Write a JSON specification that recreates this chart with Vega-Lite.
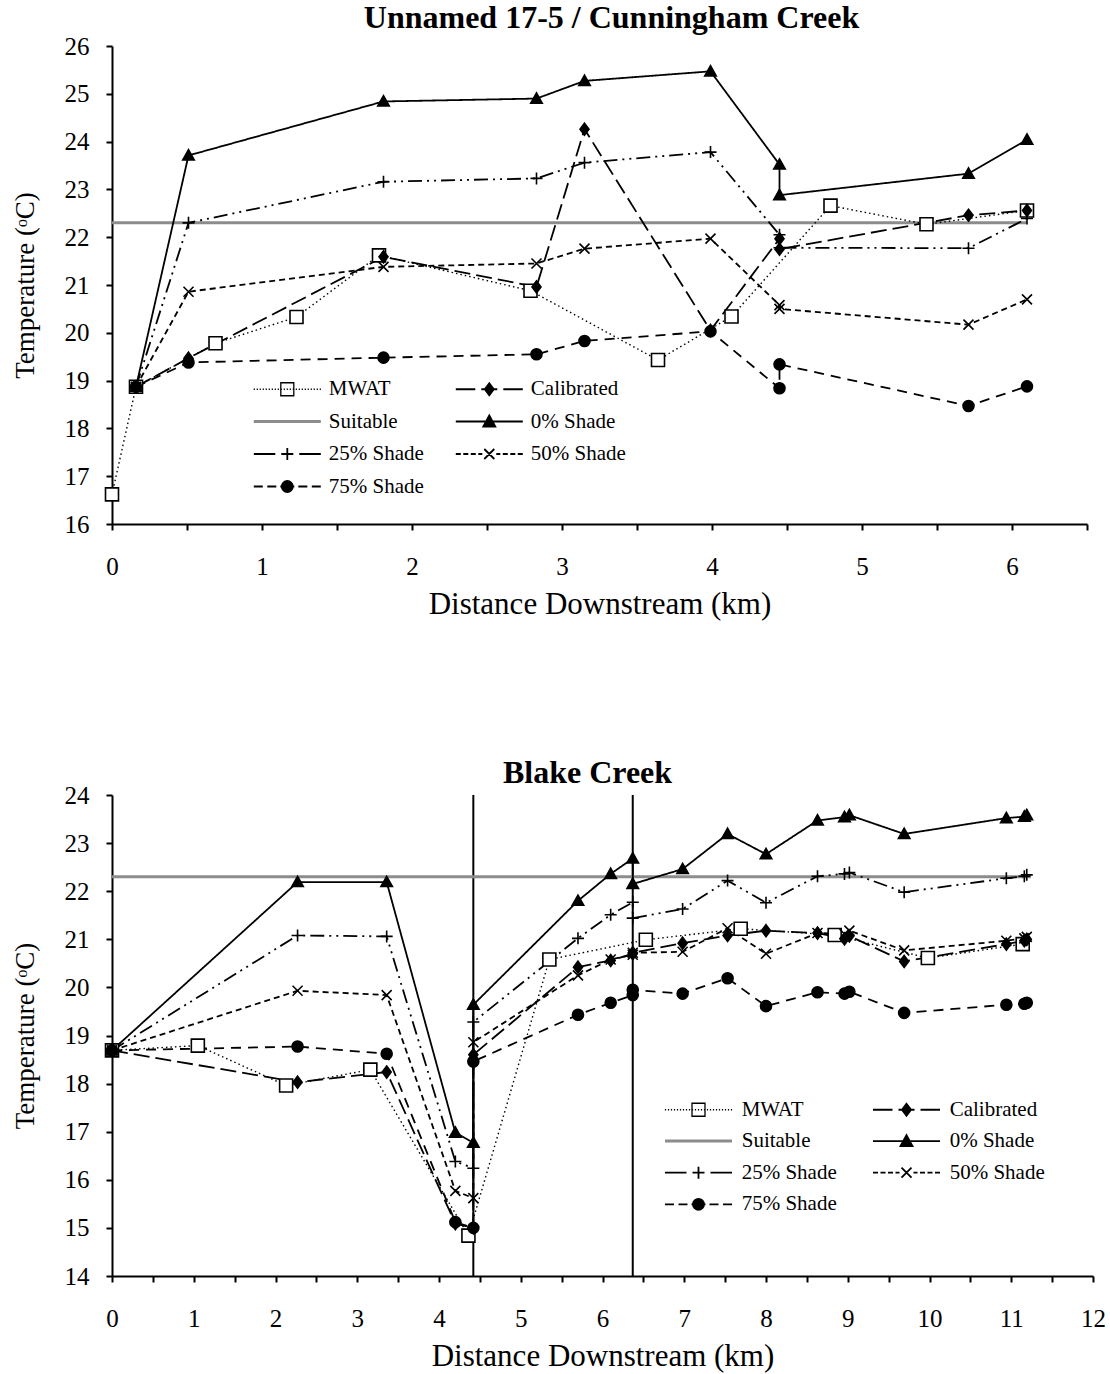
{
  "$schema": "https://vega.github.io/schema/vega-lite/v6.json",
  "background": "white",
  "padding": {"left": 11, "top": 2, "right": 5, "bottom": 5},
  "spacing": 137,
  "config": {
    "font": "Liberation Serif",
    "view": {"stroke": null},
    "axis": {
      "labelFont": "Liberation Serif", "labelFontSize": 25, "labelColor": "black",
      "titleFont": "Liberation Serif", "titleFontWeight": "normal", "titleColor": "black",
      "domainColor": "black", "domainWidth": 2, "tickColor": "black", "tickWidth": 2, "tickSize": 6,
      "grid": false, "labelFlush": false, "labelOverlap": false, "labelBound": false
    },
    "axisX": {"titleFontSize": 31, "labelPadding": 24, "titlePadding": 10},
    "axisY": {"titleFontSize": 27, "labelPadding": 17, "titlePadding": 25},
    "title": {"font": "Liberation Serif", "fontSize": 32, "fontWeight": "bold", "color": "black", "frame": "group", "anchor": "middle", "baseline": "bottom"}
  },
  "datasets": {
    "top": [
      {"s": "Suitable", "x": 0, "t": 22.3, "i": 0},
      {"s": "Suitable", "x": 6.1, "t": 22.3, "i": 1},
      {"s": "MWAT", "x": 0, "t": 16.62, "i": 0},
      {"s": "MWAT", "x": 0.16, "t": 18.87, "i": 1},
      {"s": "MWAT", "x": 0.69, "t": 19.78, "i": 2},
      {"s": "MWAT", "x": 1.23, "t": 20.33, "i": 3},
      {"s": "MWAT", "x": 1.78, "t": 21.62, "i": 4},
      {"s": "MWAT", "x": 2.79, "t": 20.88, "i": 5},
      {"s": "MWAT", "x": 3.64, "t": 19.43, "i": 6},
      {"s": "MWAT", "x": 4.13, "t": 20.34, "i": 7},
      {"s": "MWAT", "x": 4.79, "t": 22.66, "i": 8},
      {"s": "MWAT", "x": 5.43, "t": 22.27, "i": 9},
      {"s": "MWAT", "x": 6.1, "t": 22.56, "i": 10},
      {"s": "Calibrated", "x": 0.16, "t": 18.87, "i": 0},
      {"s": "Calibrated", "x": 0.51, "t": 19.47, "i": 1},
      {"s": "Calibrated", "x": 1.81, "t": 21.59, "i": 2},
      {"s": "Calibrated", "x": 2.83, "t": 20.96, "i": 3},
      {"s": "Calibrated", "x": 3.15, "t": 24.26, "i": 4},
      {"s": "Calibrated", "x": 3.99, "t": 20.05, "i": 5},
      {"s": "Calibrated", "x": 4.45, "t": 21.97, "i": 6},
      {"s": "Calibrated", "x": 4.45, "t": 21.75, "i": 7},
      {"s": "Calibrated", "x": 5.71, "t": 22.46, "i": 8},
      {"s": "Calibrated", "x": 6.1, "t": 22.56, "i": 9},
      {"s": "0% Shade", "x": 0.16, "t": 18.87, "i": 0},
      {"s": "0% Shade", "x": 0.51, "t": 23.71, "i": 1},
      {"s": "0% Shade", "x": 1.81, "t": 24.84, "i": 2},
      {"s": "0% Shade", "x": 2.83, "t": 24.9, "i": 3},
      {"s": "0% Shade", "x": 3.15, "t": 25.27, "i": 4},
      {"s": "0% Shade", "x": 3.99, "t": 25.47, "i": 5},
      {"s": "0% Shade", "x": 4.45, "t": 23.52, "i": 6},
      {"s": "0% Shade", "x": 4.45, "t": 22.88, "i": 7},
      {"s": "0% Shade", "x": 5.71, "t": 23.33, "i": 8},
      {"s": "0% Shade", "x": 6.1, "t": 24.04, "i": 9},
      {"s": "25% Shade", "x": 0.16, "t": 18.87, "i": 0},
      {"s": "25% Shade", "x": 0.51, "t": 22.3, "i": 1},
      {"s": "25% Shade", "x": 1.81, "t": 23.16, "i": 2},
      {"s": "25% Shade", "x": 2.83, "t": 23.23, "i": 3},
      {"s": "25% Shade", "x": 3.15, "t": 23.56, "i": 4},
      {"s": "25% Shade", "x": 3.99, "t": 23.78, "i": 5},
      {"s": "25% Shade", "x": 4.45, "t": 22.05, "i": 6},
      {"s": "25% Shade", "x": 4.45, "t": 21.78, "i": 7},
      {"s": "25% Shade", "x": 5.71, "t": 21.77, "i": 8},
      {"s": "25% Shade", "x": 6.1, "t": 22.39, "i": 9},
      {"s": "50% Shade", "x": 0.16, "t": 18.87, "i": 0},
      {"s": "50% Shade", "x": 0.51, "t": 20.86, "i": 1},
      {"s": "50% Shade", "x": 1.81, "t": 21.38, "i": 2},
      {"s": "50% Shade", "x": 2.83, "t": 21.45, "i": 3},
      {"s": "50% Shade", "x": 3.15, "t": 21.76, "i": 4},
      {"s": "50% Shade", "x": 3.99, "t": 21.97, "i": 5},
      {"s": "50% Shade", "x": 4.45, "t": 20.58, "i": 6},
      {"s": "50% Shade", "x": 4.45, "t": 20.5, "i": 7},
      {"s": "50% Shade", "x": 5.71, "t": 20.17, "i": 8},
      {"s": "50% Shade", "x": 6.1, "t": 20.7, "i": 9},
      {"s": "75% Shade", "x": 0.16, "t": 18.87, "i": 0},
      {"s": "75% Shade", "x": 0.51, "t": 19.38, "i": 1},
      {"s": "75% Shade", "x": 1.81, "t": 19.48, "i": 2},
      {"s": "75% Shade", "x": 2.83, "t": 19.55, "i": 3},
      {"s": "75% Shade", "x": 3.15, "t": 19.83, "i": 4},
      {"s": "75% Shade", "x": 3.99, "t": 20.03, "i": 5},
      {"s": "75% Shade", "x": 4.45, "t": 18.84, "i": 6},
      {"s": "75% Shade", "x": 4.45, "t": 19.34, "i": 7},
      {"s": "75% Shade", "x": 5.71, "t": 18.47, "i": 8},
      {"s": "75% Shade", "x": 6.1, "t": 18.88, "i": 9}
    ],
    "bottom": [
      {"s": "Suitable", "x": 0, "t": 22.3, "i": 0},
      {"s": "Suitable", "x": 11.24, "t": 22.3, "i": 1},
      {"s": "MWAT", "x": 0, "t": 18.69, "i": 0},
      {"s": "MWAT", "x": 1.05, "t": 18.79, "i": 1},
      {"s": "MWAT", "x": 2.13, "t": 17.96, "i": 2},
      {"s": "MWAT", "x": 3.16, "t": 18.29, "i": 3},
      {"s": "MWAT", "x": 4.36, "t": 14.84, "i": 4},
      {"s": "MWAT", "x": 5.35, "t": 20.58, "i": 5},
      {"s": "MWAT", "x": 6.53, "t": 20.99, "i": 6},
      {"s": "MWAT", "x": 7.69, "t": 21.22, "i": 7},
      {"s": "MWAT", "x": 8.84, "t": 21.09, "i": 8},
      {"s": "MWAT", "x": 9.98, "t": 20.61, "i": 9},
      {"s": "MWAT", "x": 11.14, "t": 20.9, "i": 10},
      {"s": "Calibrated", "x": 0, "t": 18.69, "i": 0},
      {"s": "Calibrated", "x": 2.27, "t": 18.03, "i": 1},
      {"s": "Calibrated", "x": 3.36, "t": 18.24, "i": 2},
      {"s": "Calibrated", "x": 4.2, "t": 15.09, "i": 3},
      {"s": "Calibrated", "x": 4.42, "t": 15.0, "i": 4},
      {"s": "Calibrated", "x": 4.42, "t": 18.6, "i": 5},
      {"s": "Calibrated", "x": 5.7, "t": 20.42, "i": 6},
      {"s": "Calibrated", "x": 6.1, "t": 20.56, "i": 7},
      {"s": "Calibrated", "x": 6.37, "t": 20.7, "i": 8},
      {"s": "Calibrated", "x": 6.37, "t": 20.72, "i": 9},
      {"s": "Calibrated", "x": 6.98, "t": 20.92, "i": 10},
      {"s": "Calibrated", "x": 7.53, "t": 21.08, "i": 11},
      {"s": "Calibrated", "x": 8.0, "t": 21.18, "i": 12},
      {"s": "Calibrated", "x": 8.63, "t": 21.13, "i": 13},
      {"s": "Calibrated", "x": 8.96, "t": 21.01, "i": 14},
      {"s": "Calibrated", "x": 9.02, "t": 21.07, "i": 15},
      {"s": "Calibrated", "x": 9.69, "t": 20.54, "i": 16},
      {"s": "Calibrated", "x": 10.94, "t": 20.9, "i": 17},
      {"s": "Calibrated", "x": 11.16, "t": 20.97, "i": 18},
      {"s": "Calibrated", "x": 11.19, "t": 21.0, "i": 19},
      {"s": "0% Shade", "x": 0, "t": 18.69, "i": 0},
      {"s": "0% Shade", "x": 2.27, "t": 22.19, "i": 1},
      {"s": "0% Shade", "x": 3.36, "t": 22.19, "i": 2},
      {"s": "0% Shade", "x": 4.2, "t": 16.98, "i": 3},
      {"s": "0% Shade", "x": 4.42, "t": 16.77, "i": 4},
      {"s": "0% Shade", "x": 4.42, "t": 19.64, "i": 5},
      {"s": "0% Shade", "x": 5.7, "t": 21.8, "i": 6},
      {"s": "0% Shade", "x": 6.1, "t": 22.36, "i": 7},
      {"s": "0% Shade", "x": 6.37, "t": 22.68, "i": 8},
      {"s": "0% Shade", "x": 6.37, "t": 22.15, "i": 9},
      {"s": "0% Shade", "x": 6.98, "t": 22.46, "i": 10},
      {"s": "0% Shade", "x": 7.53, "t": 23.19, "i": 11},
      {"s": "0% Shade", "x": 8.0, "t": 22.77, "i": 12},
      {"s": "0% Shade", "x": 8.63, "t": 23.47, "i": 13},
      {"s": "0% Shade", "x": 8.96, "t": 23.54, "i": 14},
      {"s": "0% Shade", "x": 9.02, "t": 23.58, "i": 15},
      {"s": "0% Shade", "x": 9.69, "t": 23.19, "i": 16},
      {"s": "0% Shade", "x": 10.94, "t": 23.52, "i": 17},
      {"s": "0% Shade", "x": 11.16, "t": 23.55, "i": 18},
      {"s": "0% Shade", "x": 11.19, "t": 23.58, "i": 19},
      {"s": "25% Shade", "x": 0, "t": 18.69, "i": 0},
      {"s": "25% Shade", "x": 2.27, "t": 21.08, "i": 1},
      {"s": "25% Shade", "x": 3.36, "t": 21.06, "i": 2},
      {"s": "25% Shade", "x": 4.2, "t": 16.38, "i": 3},
      {"s": "25% Shade", "x": 4.42, "t": 16.24, "i": 4},
      {"s": "25% Shade", "x": 4.42, "t": 19.28, "i": 5},
      {"s": "25% Shade", "x": 5.7, "t": 21.02, "i": 6},
      {"s": "25% Shade", "x": 6.1, "t": 21.51, "i": 7},
      {"s": "25% Shade", "x": 6.37, "t": 21.77, "i": 8},
      {"s": "25% Shade", "x": 6.37, "t": 21.44, "i": 9},
      {"s": "25% Shade", "x": 6.98, "t": 21.63, "i": 10},
      {"s": "25% Shade", "x": 7.53, "t": 22.22, "i": 11},
      {"s": "25% Shade", "x": 8.0, "t": 21.76, "i": 12},
      {"s": "25% Shade", "x": 8.63, "t": 22.31, "i": 13},
      {"s": "25% Shade", "x": 8.96, "t": 22.36, "i": 14},
      {"s": "25% Shade", "x": 9.02, "t": 22.39, "i": 15},
      {"s": "25% Shade", "x": 9.69, "t": 21.98, "i": 16},
      {"s": "25% Shade", "x": 10.94, "t": 22.27, "i": 17},
      {"s": "25% Shade", "x": 11.16, "t": 22.31, "i": 18},
      {"s": "25% Shade", "x": 11.19, "t": 22.34, "i": 19},
      {"s": "50% Shade", "x": 0, "t": 18.69, "i": 0},
      {"s": "50% Shade", "x": 2.27, "t": 19.93, "i": 1},
      {"s": "50% Shade", "x": 3.36, "t": 19.84, "i": 2},
      {"s": "50% Shade", "x": 4.2, "t": 15.77, "i": 3},
      {"s": "50% Shade", "x": 4.42, "t": 15.62, "i": 4},
      {"s": "50% Shade", "x": 4.42, "t": 18.86, "i": 5},
      {"s": "50% Shade", "x": 5.7, "t": 20.25, "i": 6},
      {"s": "50% Shade", "x": 6.1, "t": 20.58, "i": 7},
      {"s": "50% Shade", "x": 6.37, "t": 20.68, "i": 8},
      {"s": "50% Shade", "x": 6.37, "t": 20.72, "i": 9},
      {"s": "50% Shade", "x": 6.98, "t": 20.74, "i": 10},
      {"s": "50% Shade", "x": 7.53, "t": 21.23, "i": 11},
      {"s": "50% Shade", "x": 8.0, "t": 20.7, "i": 12},
      {"s": "50% Shade", "x": 8.63, "t": 21.13, "i": 13},
      {"s": "50% Shade", "x": 8.96, "t": 21.11, "i": 14},
      {"s": "50% Shade", "x": 9.02, "t": 21.18, "i": 15},
      {"s": "50% Shade", "x": 9.69, "t": 20.77, "i": 16},
      {"s": "50% Shade", "x": 10.94, "t": 20.97, "i": 17},
      {"s": "50% Shade", "x": 11.16, "t": 21.02, "i": 18},
      {"s": "50% Shade", "x": 11.19, "t": 21.05, "i": 19},
      {"s": "75% Shade", "x": 0, "t": 18.69, "i": 0},
      {"s": "75% Shade", "x": 2.27, "t": 18.77, "i": 1},
      {"s": "75% Shade", "x": 3.36, "t": 18.62, "i": 2},
      {"s": "75% Shade", "x": 4.2, "t": 15.12, "i": 3},
      {"s": "75% Shade", "x": 4.42, "t": 15.0, "i": 4},
      {"s": "75% Shade", "x": 4.42, "t": 18.46, "i": 5},
      {"s": "75% Shade", "x": 5.7, "t": 19.43, "i": 6},
      {"s": "75% Shade", "x": 6.1, "t": 19.68, "i": 7},
      {"s": "75% Shade", "x": 6.37, "t": 19.84, "i": 8},
      {"s": "75% Shade", "x": 6.37, "t": 19.95, "i": 9},
      {"s": "75% Shade", "x": 6.98, "t": 19.87, "i": 10},
      {"s": "75% Shade", "x": 7.53, "t": 20.19, "i": 11},
      {"s": "75% Shade", "x": 8.0, "t": 19.61, "i": 12},
      {"s": "75% Shade", "x": 8.63, "t": 19.9, "i": 13},
      {"s": "75% Shade", "x": 8.96, "t": 19.87, "i": 14},
      {"s": "75% Shade", "x": 9.02, "t": 19.91, "i": 15},
      {"s": "75% Shade", "x": 9.69, "t": 19.47, "i": 16},
      {"s": "75% Shade", "x": 10.94, "t": 19.64, "i": 17},
      {"s": "75% Shade", "x": 11.16, "t": 19.66, "i": 18},
      {"s": "75% Shade", "x": 11.19, "t": 19.68, "i": 19}
    ],
    "bottomRules": [{"km": 4.42}, {"km": 6.37}]
  },
  "vconcat": [
    {
      "width": 975,
      "height": 478,
      "title": {"text": "Unnamed 17-5 / Cunningham Creek", "dx": 12, "offset": -1},
      "layer": [
        {
          "data": {"name": "top"},
          "mark": {"type": "line", "strokeCap": "butt"},
          "encoding": {
            "x": {"field": "x", "type": "quantitative", "scale": {"domain": [0, 6.5], "nice": false, "zero": false},
                  "axis": {"title": "Distance Downstream (km)", "values": [0,0.5,1,1.5,2,2.5,3,3.5,4,4.5,5,5.5,6,6.5], "labelExpr": "datum.value % 1 === 0 ? format(datum.value, 'd') : ''"}},
            "y": {"field": "t", "type": "quantitative", "scale": {"domain": [16, 26], "nice": false, "zero": false},
                  "axis": {"title": "Temperature (ᵒC)", "values": [16,16.5,17,17.5,18,18.5,19,19.5,20,20.5,21,21.5,22,22.5,23,23.5,24,24.5,25,25.5,26], "labelExpr": "datum.value % 1 === 0 ? format(datum.value, 'd') : ''"}},
            "detail": {"field": "s", "type": "nominal"},
            "order": {"field": "i", "type": "quantitative"},
            "stroke": {"field": "s", "type": "nominal", "legend": null, "scale": {"domain": ["MWAT","Calibrated","Suitable","0% Shade","25% Shade","50% Shade","75% Shade"], "range": ["black","black","#8c8c8c","black","black","black","black"]}},
            "strokeWidth": {"field": "s", "type": "nominal", "legend": null, "scale": {"type": "ordinal", "domain": ["MWAT","Calibrated","Suitable","0% Shade","25% Shade","50% Shade","75% Shade"], "range": [1.4, 1.8, 3, 1.8, 1.8, 1.8, 1.8]}},
            "strokeDash": {"field": "s", "type": "nominal", "legend": null, "scale": {"domain": ["MWAT","Calibrated","Suitable","0% Shade","25% Shade","50% Shade","75% Shade"], "range": [[1.5,3],[16,6],[1,0],[1,0],[14,5,2,5,2,5],[6,4],[10,7]]}}
          }
        },
        {
          "data": {"name": "top"},
          "transform": [{"filter": "datum.s != 'Suitable'"}],
          "mark": {"type": "point", "filled": true, "size": 100, "stroke": "black", "strokeWidth": 1.6, "opacity": 1},
          "encoding": {
            "x": {"field": "x", "type": "quantitative"},
            "y": {"field": "t", "type": "quantitative"},
            "shape": {"field": "s", "type": "nominal", "legend": null, "scale": {"domain": ["MWAT","Calibrated","Suitable","0% Shade","25% Shade","50% Shade","75% Shade"], "range": ["M-1.3,-1.3H1.3V1.3H-1.3Z","M0,-1.2L0.9,0L0,1.2L-0.9,0Z","circle","M0,-1.15L1.15,0.9H-1.15Z","M-1.2,0H1.2M0,-1.2V1.2","M-1,-1L1,1M-1,1L1,-1","M-1.1,0A1.1,1.1,0,1,0,1.1,0A1.1,1.1,0,1,0,-1.1,0Z"]}},
            "fill": {"field": "s", "type": "nominal", "legend": null, "scale": {"domain": ["MWAT","Calibrated","Suitable","0% Shade","25% Shade","50% Shade","75% Shade"], "range": ["white","black","transparent","black","transparent","transparent","black"]}}
          }
        },
        {
          "data": {"name": "top"},
          "transform": [{"filter": "datum.s == 'none'"}],
          "mark": {"type": "point", "filled": true, "size": 4, "opacity": 1},
          "encoding": {
            "shape": {"field": "s", "type": "nominal",
              "legend": {"title": null, "orient": "none", "direction": "horizontal", "legendX": 141.8, "legendY": 332.5, "columns": 2, "columnPadding": 27, "rowPadding": 10.5, "symbolSize": 4, "symbolOffset": 23, "labelOffset": 31, "labelFont": "Liberation Serif", "labelFontSize": 21, "labelColor": "black", "padding": 0},
              "scale": {"domain": ["MWAT","Calibrated","Suitable","0% Shade","25% Shade","50% Shade","75% Shade"], "range": [
                "M-33.6,0h1.2M-30.6,0h1.2M-27.6,0h1.2M-24.6,0h1.2M-21.6,0h1.2M-18.6,0h1.2M-15.6,0h1.2M-12.6,0h1.2M-9.6,0h1.2M-6.6,0h1.2M-3.6,0h1.2M-0.6,0h1.2M2.4,0h1.2M5.4,0h1.2M8.4,0h1.2M11.4,0h1.2M14.4,0h1.2M17.4,0h1.2M20.4,0h1.2M23.4,0h1.2M26.4,0h1.2M29.4,0h1.2M32.4,0h1.2M-6.5,-6.5h13v13h-13z",
                "M-33.5,0H-14M-8,0H8M14,0H33.5M0,-6L4.5,0L0,6L-4.5,0Z",
                "M-33.5,0H33.5",
                "M-33.5,0H33.5M0,-6L6,5H-6Z",
                "M-33.5,0H-12M-6,0H6M0,-6V6M12,0H33.5",
                "M-33.5,0h5M-26,0h5M-18.5,0h5M-11,0h4M-5,-5L5,5M-5,5L5,-5M7,0h4M13.5,0h5M21,0h5M28.5,0h5",
                "M-33.5,0h9M-20,0h9M-7,0h14M11,0h9M24.5,0h9M-5.5,0a5.5,5.5 0 1,0 11,0a5.5,5.5 0 1,0 -11,0z"
              ]}},
            "fill": {"field": "s", "type": "nominal",
              "legend": {"title": null, "orient": "none", "direction": "horizontal", "legendX": 141.8, "legendY": 332.5, "columns": 2, "columnPadding": 27, "rowPadding": 10.5, "symbolSize": 4, "symbolOffset": 23, "labelOffset": 31, "labelFont": "Liberation Serif", "labelFontSize": 21, "labelColor": "black", "padding": 0},
              "scale": {"domain": ["MWAT","Calibrated","Suitable","0% Shade","25% Shade","50% Shade","75% Shade"], "range": ["white","black","transparent","black","transparent","transparent","black"]}},
            "stroke": {"field": "s", "type": "nominal",
              "legend": {"title": null, "orient": "none", "direction": "horizontal", "legendX": 141.8, "legendY": 332.5, "columns": 2, "columnPadding": 27, "rowPadding": 10.5, "symbolSize": 4, "symbolOffset": 23, "labelOffset": 31, "labelFont": "Liberation Serif", "labelFontSize": 21, "labelColor": "black", "padding": 0},
              "scale": {"domain": ["MWAT","Calibrated","Suitable","0% Shade","25% Shade","50% Shade","75% Shade"], "range": ["black","black","#8c8c8c","black","black","black","black"]}},
            "strokeWidth": {"field": "s", "type": "nominal",
              "legend": {"title": null, "orient": "none", "direction": "horizontal", "legendX": 141.8, "legendY": 332.5, "columns": 2, "columnPadding": 27, "rowPadding": 10.5, "symbolSize": 4, "symbolOffset": 23, "labelOffset": 31, "labelFont": "Liberation Serif", "labelFontSize": 21, "labelColor": "black", "padding": 0},
              "scale": {"type": "ordinal", "domain": ["MWAT","Calibrated","Suitable","0% Shade","25% Shade","50% Shade","75% Shade"], "range": [1.3, 1.8, 3, 1.8, 1.8, 1.8, 1.8]}}
          }
        }
      ],
      "resolve": {"scale": {"shape": "independent", "fill": "independent", "stroke": "independent", "strokeWidth": "independent", "strokeDash": "independent"}}
    },
    {
      "width": 981,
      "height": 481,
      "title": {"text": "Blake Creek", "dx": -15, "offset": -6.5},
      "layer": [
        {
          "data": {"name": "bottomRules"},
          "mark": {"type": "rule", "color": "black", "strokeWidth": 2},
          "encoding": {
            "x": {"field": "km", "type": "quantitative", "scale": {"domain": [0, 12], "nice": false, "zero": false},
                  "axis": {"title": "Distance Downstream (km)", "values": [0,0.5,1,1.5,2,2.5,3,3.5,4,4.5,5,5.5,6,6.5,7,7.5,8,8.5,9,9.5,10,10.5,11,11.5,12], "labelExpr": "datum.value % 1 === 0 ? format(datum.value, 'd') : ''"}}
          }
        },
        {
          "data": {"name": "bottom"},
          "mark": {"type": "line", "strokeCap": "butt"},
          "encoding": {
            "x": {"field": "x", "type": "quantitative"},
            "y": {"field": "t", "type": "quantitative", "scale": {"domain": [14, 24], "nice": false, "zero": false},
                  "axis": {"title": "Temperature (ᵒC)", "values": [14,14.5,15,15.5,16,16.5,17,17.5,18,18.5,19,19.5,20,20.5,21,21.5,22,22.5,23,23.5,24], "labelExpr": "datum.value % 1 === 0 ? format(datum.value, 'd') : ''"}},
            "detail": {"field": "s", "type": "nominal"},
            "order": {"field": "i", "type": "quantitative"},
            "stroke": {"field": "s", "type": "nominal", "legend": null, "scale": {"domain": ["MWAT","Calibrated","Suitable","0% Shade","25% Shade","50% Shade","75% Shade"], "range": ["black","black","#8c8c8c","black","black","black","black"]}},
            "strokeWidth": {"field": "s", "type": "nominal", "legend": null, "scale": {"type": "ordinal", "domain": ["MWAT","Calibrated","Suitable","0% Shade","25% Shade","50% Shade","75% Shade"], "range": [1.4, 1.8, 3, 1.8, 1.8, 1.8, 1.8]}},
            "strokeDash": {"field": "s", "type": "nominal", "legend": null, "scale": {"domain": ["MWAT","Calibrated","Suitable","0% Shade","25% Shade","50% Shade","75% Shade"], "range": [[1.5,3],[16,6],[1,0],[1,0],[14,5,2,5,2,5],[6,4],[10,7]]}}
          }
        },
        {
          "data": {"name": "bottom"},
          "transform": [{"filter": "datum.s != 'Suitable'"}],
          "mark": {"type": "point", "filled": true, "size": 100, "stroke": "black", "strokeWidth": 1.6, "opacity": 1},
          "encoding": {
            "x": {"field": "x", "type": "quantitative"},
            "y": {"field": "t", "type": "quantitative"},
            "shape": {"field": "s", "type": "nominal", "legend": null, "scale": {"domain": ["MWAT","Calibrated","Suitable","0% Shade","25% Shade","50% Shade","75% Shade"], "range": ["M-1.3,-1.3H1.3V1.3H-1.3Z","M0,-1.2L0.9,0L0,1.2L-0.9,0Z","circle","M0,-1.15L1.15,0.9H-1.15Z","M-1.2,0H1.2M0,-1.2V1.2","M-1,-1L1,1M-1,1L1,-1","M-1.1,0A1.1,1.1,0,1,0,1.1,0A1.1,1.1,0,1,0,-1.1,0Z"]}},
            "fill": {"field": "s", "type": "nominal", "legend": null, "scale": {"domain": ["MWAT","Calibrated","Suitable","0% Shade","25% Shade","50% Shade","75% Shade"], "range": ["white","black","transparent","black","transparent","transparent","black"]}}
          }
        },
        {
          "data": {"name": "bottom"},
          "transform": [{"filter": "datum.s == 'none'"}],
          "mark": {"type": "point", "filled": true, "size": 4, "opacity": 1},
          "encoding": {
            "shape": {"field": "s", "type": "nominal",
              "legend": {"title": null, "orient": "none", "direction": "horizontal", "legendX": 553, "legendY": 304, "columns": 2, "columnPadding": 32, "rowPadding": 9.6, "symbolSize": 4, "symbolOffset": 23, "labelOffset": 32.7, "labelFont": "Liberation Serif", "labelFontSize": 21, "labelColor": "black", "padding": 0},
              "scale": {"domain": ["MWAT","Calibrated","Suitable","0% Shade","25% Shade","50% Shade","75% Shade"], "range": [
                "M-33.6,0h1.2M-30.6,0h1.2M-27.6,0h1.2M-24.6,0h1.2M-21.6,0h1.2M-18.6,0h1.2M-15.6,0h1.2M-12.6,0h1.2M-9.6,0h1.2M-6.6,0h1.2M-3.6,0h1.2M-0.6,0h1.2M2.4,0h1.2M5.4,0h1.2M8.4,0h1.2M11.4,0h1.2M14.4,0h1.2M17.4,0h1.2M20.4,0h1.2M23.4,0h1.2M26.4,0h1.2M29.4,0h1.2M32.4,0h1.2M-6.5,-6.5h13v13h-13z",
                "M-33.5,0H-14M-8,0H8M14,0H33.5M0,-6L4.5,0L0,6L-4.5,0Z",
                "M-33.5,0H33.5",
                "M-33.5,0H33.5M0,-6L6,5H-6Z",
                "M-33.5,0H-12M-6,0H6M0,-6V6M12,0H33.5",
                "M-33.5,0h5M-26,0h5M-18.5,0h5M-11,0h4M-5,-5L5,5M-5,5L5,-5M7,0h4M13.5,0h5M21,0h5M28.5,0h5",
                "M-33.5,0h9M-20,0h9M-7,0h14M11,0h9M24.5,0h9M-5.5,0a5.5,5.5 0 1,0 11,0a5.5,5.5 0 1,0 -11,0z"
              ]}},
            "fill": {"field": "s", "type": "nominal",
              "legend": {"title": null, "orient": "none", "direction": "horizontal", "legendX": 553, "legendY": 304, "columns": 2, "columnPadding": 32, "rowPadding": 9.6, "symbolSize": 4, "symbolOffset": 23, "labelOffset": 32.7, "labelFont": "Liberation Serif", "labelFontSize": 21, "labelColor": "black", "padding": 0},
              "scale": {"domain": ["MWAT","Calibrated","Suitable","0% Shade","25% Shade","50% Shade","75% Shade"], "range": ["white","black","transparent","black","transparent","transparent","black"]}},
            "stroke": {"field": "s", "type": "nominal",
              "legend": {"title": null, "orient": "none", "direction": "horizontal", "legendX": 553, "legendY": 304, "columns": 2, "columnPadding": 32, "rowPadding": 9.6, "symbolSize": 4, "symbolOffset": 23, "labelOffset": 32.7, "labelFont": "Liberation Serif", "labelFontSize": 21, "labelColor": "black", "padding": 0},
              "scale": {"domain": ["MWAT","Calibrated","Suitable","0% Shade","25% Shade","50% Shade","75% Shade"], "range": ["black","black","#8c8c8c","black","black","black","black"]}},
            "strokeWidth": {"field": "s", "type": "nominal",
              "legend": {"title": null, "orient": "none", "direction": "horizontal", "legendX": 553, "legendY": 304, "columns": 2, "columnPadding": 32, "rowPadding": 9.6, "symbolSize": 4, "symbolOffset": 23, "labelOffset": 32.7, "labelFont": "Liberation Serif", "labelFontSize": 21, "labelColor": "black", "padding": 0},
              "scale": {"type": "ordinal", "domain": ["MWAT","Calibrated","Suitable","0% Shade","25% Shade","50% Shade","75% Shade"], "range": [1.3, 1.8, 3, 1.8, 1.8, 1.8, 1.8]}}
          }
        }
      ],
      "resolve": {"scale": {"shape": "independent", "fill": "independent", "stroke": "independent", "strokeWidth": "independent", "strokeDash": "independent"}}
    }
  ]
}
